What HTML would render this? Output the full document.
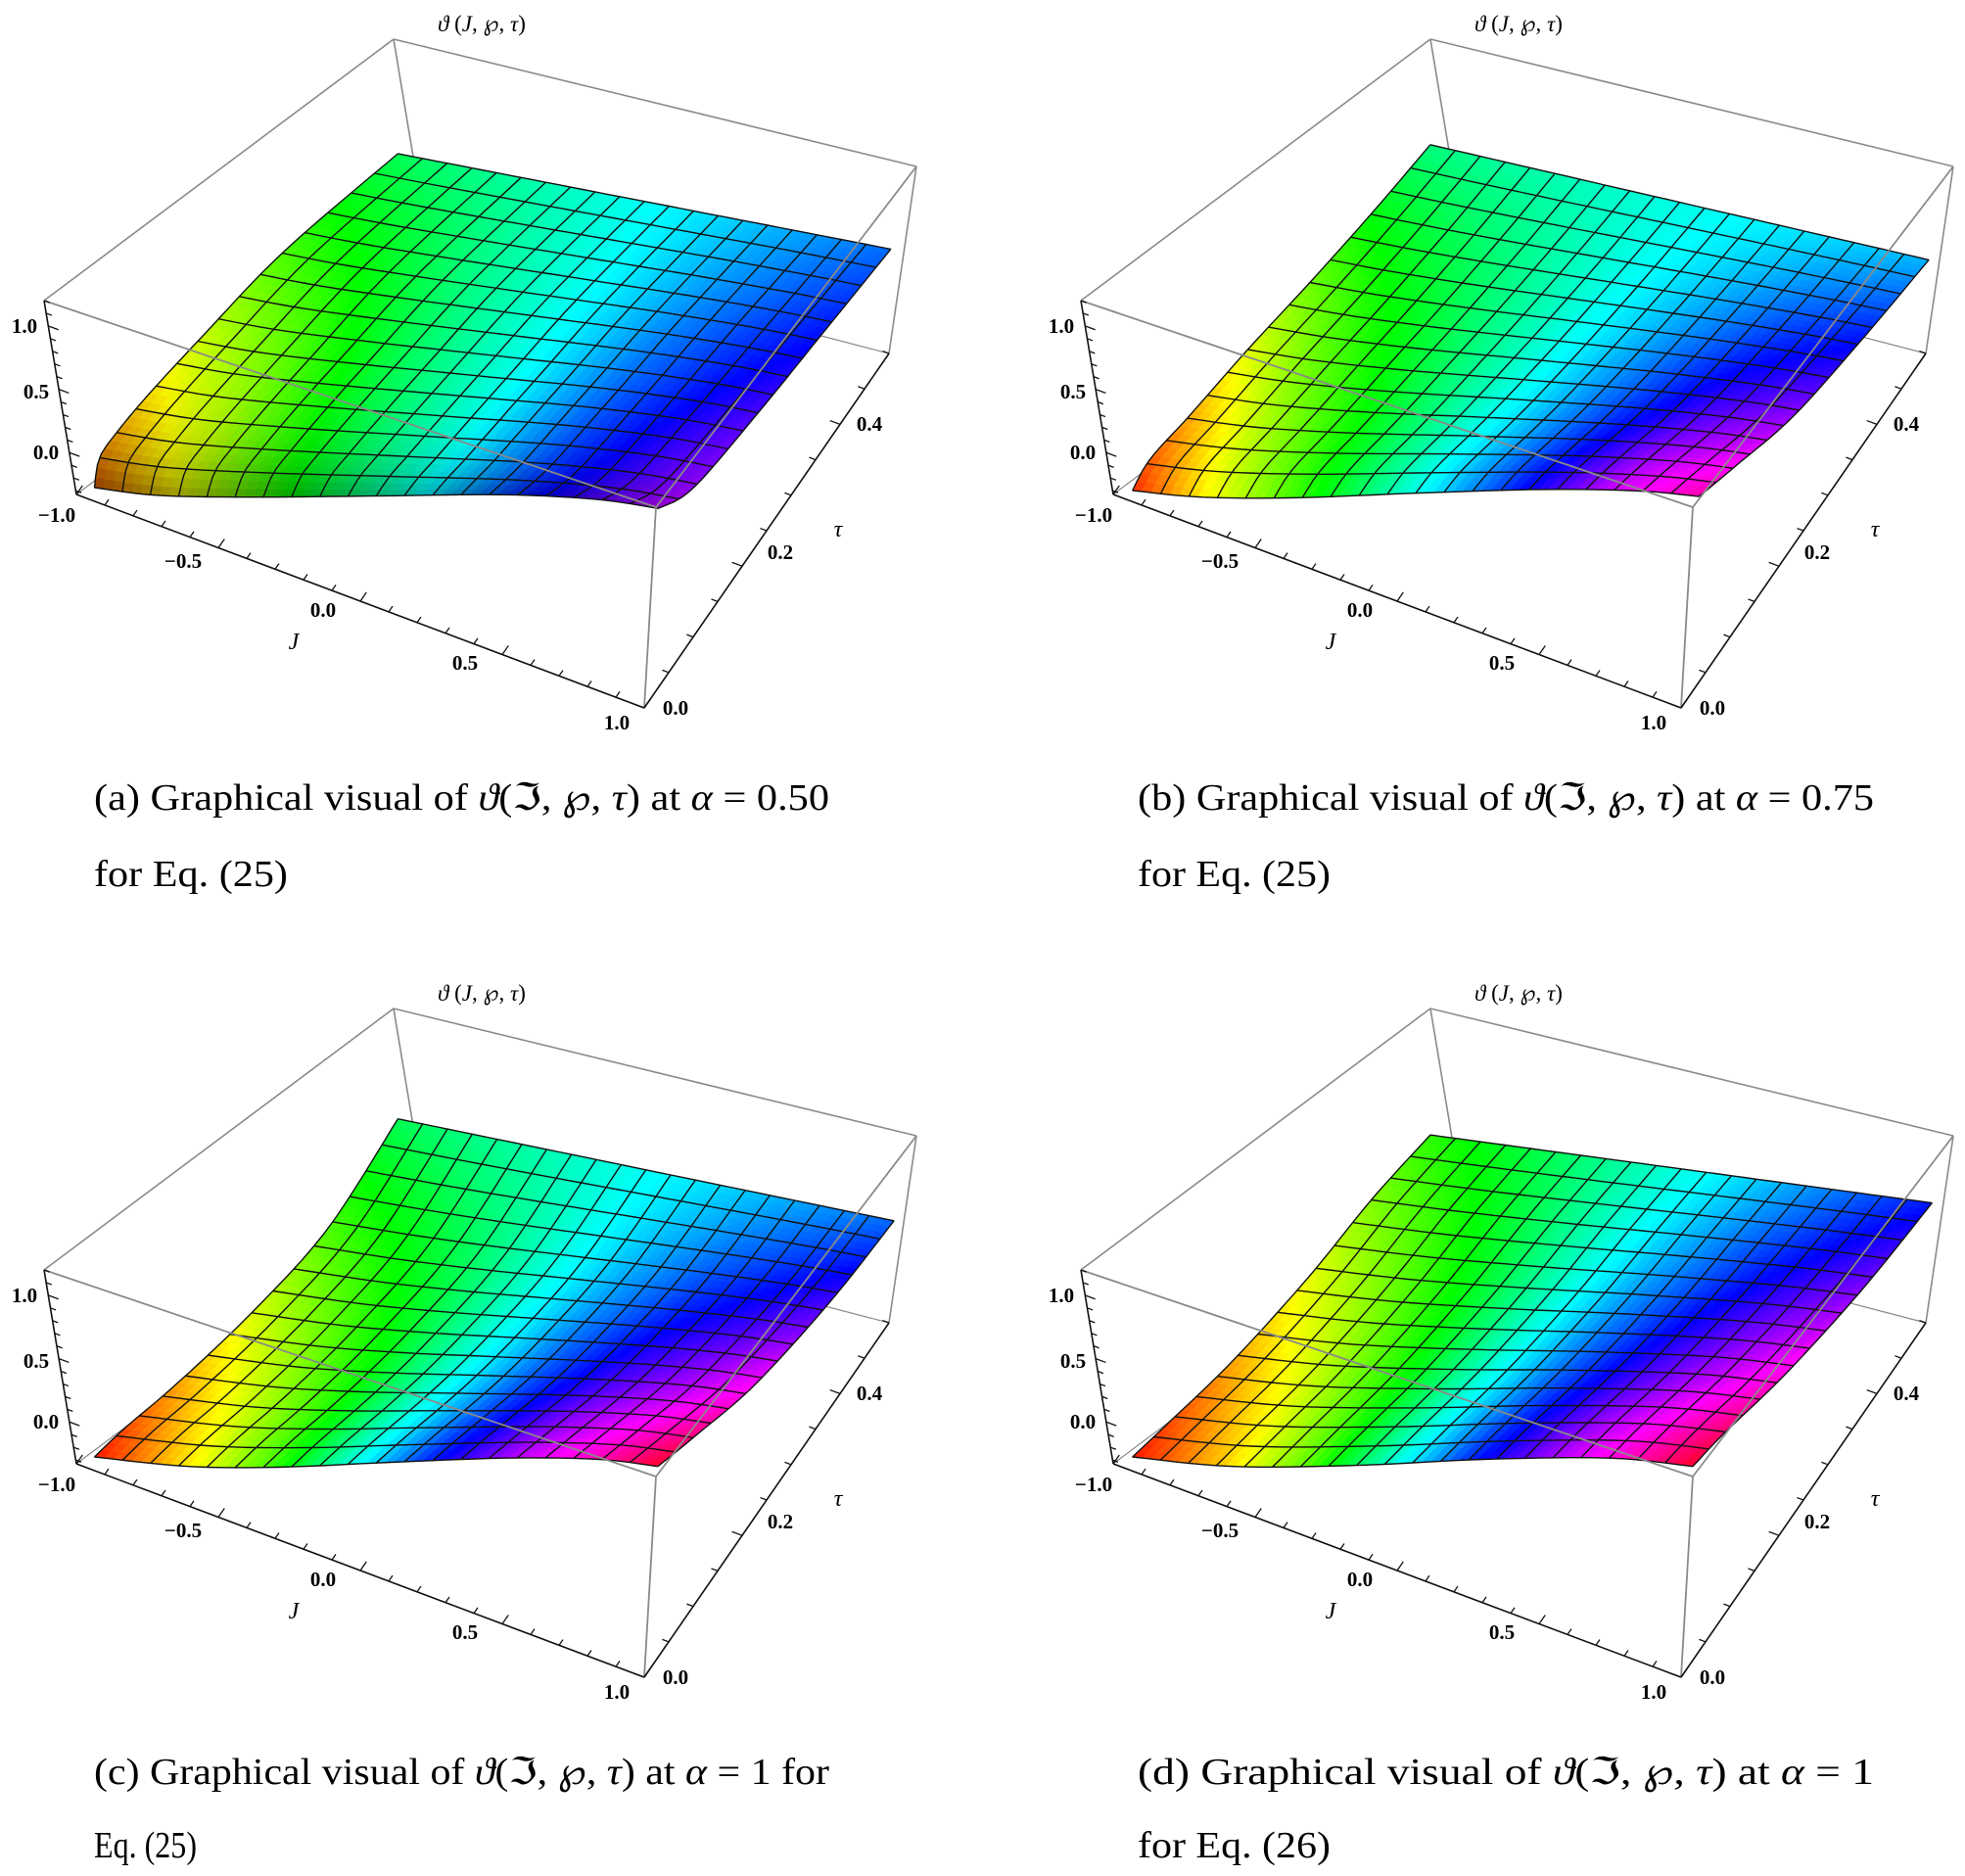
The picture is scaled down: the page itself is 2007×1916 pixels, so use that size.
<!DOCTYPE html>
<html><head><meta charset="utf-8"><style>
html,body{margin:0;padding:0;background:#fff;}
svg{display:block;}
.tk{font-family:"Liberation Serif","DejaVu Serif",serif;font-weight:bold;font-size:21px;}
.ax{font-family:"Liberation Serif","DejaVu Serif",serif;font-style:italic;font-size:24px;}
.cap{font-family:"Liberation Serif","Times New Roman",serif;font-size:38px;}
</style></head><body>
<svg id="s" width="2007" height="1916" viewBox="0 0 2007 1916" xmlns="http://www.w3.org/2000/svg">
<rect width="2007" height="1916" fill="#fff"/>
<g id="plots"></g>
<text class="cap" x="96" y="827" textLength="751" lengthAdjust="spacingAndGlyphs">(a) Graphical visual of <tspan font-style="italic">ϑ</tspan>(ℑ, ℘, <tspan font-style="italic">τ</tspan>) at <tspan font-style="italic">α</tspan> = 0.50</text>
<text class="cap" x="96" y="905" textLength="198" lengthAdjust="spacingAndGlyphs">for Eq. (25)</text>
<text class="cap" x="1162" y="827" textLength="752" lengthAdjust="spacingAndGlyphs">(b) Graphical visual of <tspan font-style="italic">ϑ</tspan>(ℑ, ℘, <tspan font-style="italic">τ</tspan>) at <tspan font-style="italic">α</tspan> = 0.75</text>
<text class="cap" x="1162" y="905" textLength="197" lengthAdjust="spacingAndGlyphs">for Eq. (25)</text>
<text class="cap" x="96" y="1822" textLength="751" lengthAdjust="spacingAndGlyphs">(c) Graphical visual of <tspan font-style="italic">ϑ</tspan>(ℑ, ℘, <tspan font-style="italic">τ</tspan>) at <tspan font-style="italic">α</tspan> = 1 for</text>
<text class="cap" x="96" y="1897" textLength="105" lengthAdjust="spacingAndGlyphs">Eq. (25)</text>
<text class="cap" x="1162" y="1822" textLength="752" lengthAdjust="spacingAndGlyphs">(d) Graphical visual of <tspan font-style="italic">ϑ</tspan>(ℑ, ℘, <tspan font-style="italic">τ</tspan>) at <tspan font-style="italic">α</tspan> = 1</text>
<text class="cap" x="1162" y="1897" textLength="197" lengthAdjust="spacingAndGlyphs">for Eq. (26)</text>
</svg>
<script>
(function(){
var NS="http://www.w3.org/2000/svg";
var G=document.getElementById("plots");
function el(tag,attrs,parent,text){var e=document.createElementNS(NS,tag);for(var k in attrs)e.setAttribute(k,attrs[k]);if(text!==undefined)e.textContent=text;(parent||G).appendChild(e);return e;}
function conv(p){return [0.643*p[0],0.609*p[1]+4.7];}
var panels=[
 {ox:0,oy:0,dx:0,dy:0,dark:true,
  front:[[150,810],[250,823],[400,826],[600,824],[800,822],[950,830],[1045,845]],
  left:[[150,810],[158,760],[185,718],[235,655],[320,558],[450,415],[632,250]],
  back:[[632,250],[1415,410]],
  right:[[1045,845],[1100,812],[1200,690],[1300,560],[1415,410]],
  hf:[[0,25],[.15,60],[.35,120],[.55,170],[.75,230],[1,285]],
  hb:[[0,140],[1,215]]},
 {ox:1059,oy:0,dx:88,dy:0,
  front:[[240,815],[350,826],[500,827],[700,819],[900,813],[1050,816],[1140,825]],
  left:[[240,815],[268,762],[330,690],[420,582],[520,468],[620,350],[713,235]],
  back:[[713,235],[1505,428]],
  right:[[1140,825],[1200,772],[1290,690],[1400,560],[1505,428]],
  hf:[[0,10],[.12,55],[.3,110],[.5,175],[.68,235],[.85,290],[1,320]],
  hb:[[0,150],[1,198]]},
 {ox:0,oy:990,dx:0,dy:52,
  front:[[150,862],[300,878],[450,879],[600,872],[800,864],[950,866],[1045,878]],
  left:[[150,862],[200,812],[280,740],[400,620],[520,480],[632,295]],
  back:[[632,295],[1420,466]],
  right:[[1045,878],[1110,822],[1200,740],[1320,600],[1420,466]],
  hf:[[0,5],[.15,50],[.3,100],[.45,170],[.6,235],[.75,285],[.9,320],[1,350]],
  hb:[[0,140],[1,215]]},
 {ox:1059,oy:990,dx:88,dy:52,
  front:[[240,862],[400,878],[600,876],[800,866],[1000,864],[1130,878]],
  left:[[240,862],[300,802],[400,700],[520,560],[620,430],[713,322]],
  back:[[713,322],[1510,436]],
  right:[[1130,878],[1180,822],[1280,720],[1400,580],[1510,436]],
  hf:[[0,5],[.15,45],[.3,95],[.45,165],[.6,230],[.75,280],[.9,320],[1,350]],
  hb:[[0,110],[1,235]]}
];
function interp(arr,t){if(t<=arr[0][0])return arr[0][1];for(var i=1;i<arr.length;i++){if(t<=arr[i][0]){var a=arr[i-1],b=arr[i];return a[1]+(b[1]-a[1])*(t-a[0])/(b[0]-a[0]);}}return arr[arr.length-1][1];}
function smooth(pts){if(pts.length<3)return pts;var out=[];var n=pts.length;
 for(var i=0;i<n-1;i++){var p0=pts[Math.max(0,i-1)],p1=pts[i],p2=pts[i+1],p3=pts[Math.min(n-1,i+2)];
  for(var s=0;s<10;s++){var t=s/10,t2=t*t,t3=t2*t;var q=[0,0];for(var k=0;k<2;k++){q[k]=0.5*((2*p1[k])+(-p0[k]+p2[k])*t+(2*p0[k]-5*p1[k]+4*p2[k]-p3[k])*t2+(-p0[k]+3*p1[k]-3*p2[k]+p3[k])*t3);}out.push(q);}}
 out.push(pts[n-1]);return out;}
function mkCurve(pts){pts=smooth(pts);var c=[0],L=0;for(var i=1;i<pts.length;i++){L+=Math.hypot(pts[i][0]-pts[i-1][0],pts[i][1]-pts[i-1][1]);c.push(L);}
 return function(t){var d=t*L;for(var i=1;i<pts.length;i++){if(d<=c[i]||i==pts.length-1){var f=(d-c[i-1])/((c[i]-c[i-1])||1);f=Math.max(0,Math.min(1,f));return [pts[i-1][0]+(pts[i][0]-pts[i-1][0])*f,pts[i-1][1]+(pts[i][1]-pts[i-1][1])*f];}}};}
function line(g,a,b,col,w){el("line",{x1:a[0],y1:a[1],x2:b[0],y2:b[1],stroke:col,"stroke-width":w},g);}
var TB=[402,40],TR=[936,170],TF=[670,518],TL=[45,307],BL=[78,505],BF=[658,723],BR=[908,361],BB=[435,238];
panels.forEach(function(P){
 var g=el("g",{transform:"translate("+P.ox+","+P.oy+")"});
 function tr(arr){return arr.map(function(p){return conv([p[0]-P.dx,p[1]-P.dy]);});}
 var F=mkCurve(tr(P.front)),Bk=mkCurve(tr(P.back)),Lf=mkCurve(tr(P.left)),Rt=mkCurve(tr(P.right));
 var F0=F(0),F1=F(1),B0=Bk(0),B1=Bk(1);
 function C(u,v){var f=F(u),b=Bk(u),l=Lf(v),r=Rt(v);var x=[0,0];for(var k=0;k<2;k++){x[k]=(1-v)*f[k]+v*b[k]+(1-u)*l[k]+u*r[k]-((1-u)*(1-v)*F0[k]+u*(1-v)*F1[k]+(1-u)*v*B0[k]+u*v*B1[k]);}return x;}
 var gc="#8a8a8a";
 line(g,TB,TL,gc,1.6);line(g,TB,TR,gc,1.6);line(g,TB,BB,gc,1.6);line(g,TR,BR,gc,1.6);
 line(g,BB,BL,gc,1.2);line(g,BB,BR,gc,1.2);
 var NU=60,NV=45;
 for(var i=0;i<NU;i++)for(var j=0;j<NV;j++){
  var u0=i/NU,u1=(i+1)/NU,v0=j/NV,v1=(j+1)/NV,uc=(u0+u1)/2,vc=(v0+v1)/2;
  var h=interp(P.hf,uc)*(1-vc)+interp(P.hb,uc)*vc;
  var Lg=50;
  if(P.dark){Lg=50-22*Math.pow(1-vc,8)*(1-0.5*uc);}
  var col="hsl("+h.toFixed(1)+",100%,"+Lg.toFixed(1)+"%)";
  var pts=[C(u0,v0),C(u1,v0),C(u1,v1),C(u0,v1)].map(function(p){return p[0].toFixed(1)+","+p[1].toFixed(1);}).join(" ");
  el("polygon",{points:pts,fill:col,stroke:col,"stroke-width":0.8},g);
 }
 var MU=20,MV=15,K=40,d,a,b;
 for(a=0;a<=MU;a++){d="";for(b=0;b<=K;b++){var p=C(a/MU,b/K);d+=(b?"L":"M")+p[0].toFixed(1)+" "+p[1].toFixed(1);}el("path",{d:d,fill:"none",stroke:"#111","stroke-width":1.4},g);}
 for(a=0;a<=MV;a++){d="";for(b=0;b<=K;b++){var p=C(b/K,a/MV);d+=(b?"L":"M")+p[0].toFixed(1)+" "+p[1].toFixed(1);}el("path",{d:d,fill:"none",stroke:"#111","stroke-width":1.4},g);}
 line(g,TL,TF,gc,1.8);line(g,TF,TR,gc,1.8);line(g,TF,BF,gc,1.8);
 line(g,TL,BL,"#111",1.6);line(g,BL,BF,"#111",1.6);line(g,BF,BR,"#111",1.6);
 for(var z=-0.3;z<=1.2;z+=0.1){var t=(z+0.33)/1.53;var x=BL[0]+(TL[0]-BL[0])*t,y=BL[1]+(TL[1]-BL[1])*t;var mj=Math.abs(z*2-Math.round(z*2))<0.01;var len=mj?11:6;line(g,[x,y],[x+len*0.94,y+len*0.35],"#111",1.3);}
 for(var k=0;k<=20;k++){var t=k/20;var x=BL[0]+(BF[0]-BL[0])*t,y=BL[1]+(BF[1]-BL[1])*t;var len=(k%5==0)?11:7;line(g,[x,y],[x+len*0.57,y-len*0.82],"#111",1.3);}
 for(var k=0;k<=10;k++){var t=k/10;var x=BF[0]+(BR[0]-BF[0])*t,y=BF[1]+(BR[1]-BF[1])*t;var len=(k%4==0)?11:7;line(g,[x,y],[x-len*0.94,y-len*0.35],"#111",1.3);}
 var labs=[["1.0",25,333],["0.5",37,400],["0.0",47,462],["\u22121.0",58,526],["\u22120.5",187,573],["0.0",330,623],["0.5",475,677],["1.0",630,738],["0.0",690,723],["0.2",797,564],["0.4",888,433]];
 labs.forEach(function(l){el("text",{"class":"tk",x:l[1],y:l[2],"text-anchor":"middle","dominant-baseline":"central"},g,l[0]);});
 el("text",{"class":"ax",x:300,y:656,"text-anchor":"middle","dominant-baseline":"central"},g,"J");
 el("text",{"class":"ax",x:856,y:541,"text-anchor":"middle","dominant-baseline":"central"},g,"\u03c4");
 var tt=el("text",{x:492,y:24,"text-anchor":"middle","dominant-baseline":"central","font-family":"Liberation Serif, DejaVu Serif, serif","font-size":"23"},g);
 tt.innerHTML='<tspan font-style="italic">\u03d1</tspan> (<tspan font-style="italic">J</tspan>, \u2118, <tspan font-style="italic">\u03c4</tspan>)';
});
})();
</script>
</body></html>
